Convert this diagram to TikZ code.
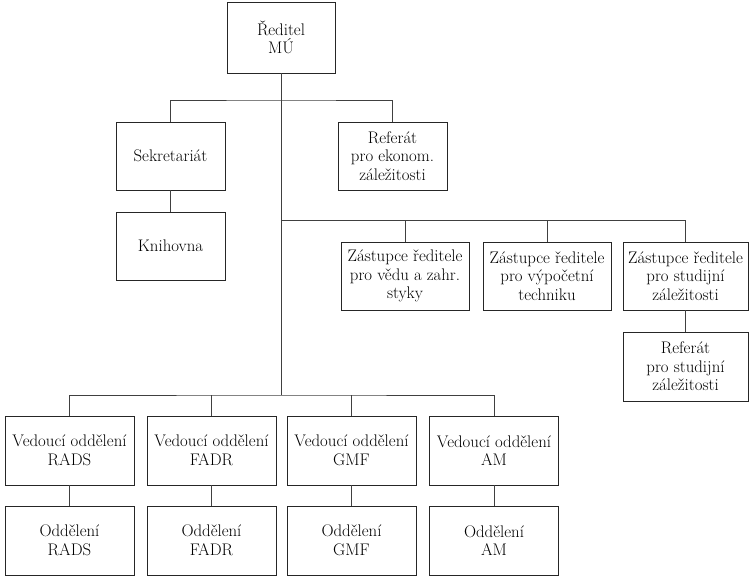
\documentclass[tikz,border=0pt]{standalone}
\begin{document}
\begin{tikzpicture}[x=1pt,y=-1pt,
  box/.style={draw=black!85, line width=0.8pt, minimum height=68pt, minimum width=129pt, inner sep=0pt, align=center, font=\fontsize{16.8}{18.5}\selectfont},
  conn/.style={draw=black!75, line width=0.8pt}]
\useasboundingbox (0,0) rectangle (749,576);
\node[box, minimum width=108pt, minimum height=71pt] (dir) at (281,37.5) {Ředitel\\MÚ};
\node[box, minimum width=109pt] (sek) at (170.5,156) {Sekretariát};
\node[box, minimum width=109pt] (kni) at (170.5,246) {Knihovna};
\node[box, minimum width=109pt] (ref) at (392.5,156) {Referát\\pro ekonom.\\záležitosti};
\node[box, minimum width=128pt] (z1) at (405,276) {Zástupce ředitele\\pro vědu a zahr.\\styky};
\node[box, minimum width=128pt] (z2) at (547,276) {Zástupce ředitele\\pro výpočetní\\techniku};
\node[box, minimum width=125pt] (z3) at (685.5,276) {Zástupce ředitele\\pro studijní\\záležitosti};
\node[box, minimum width=125pt, minimum height=69pt] (rs) at (685.5,366.5) {Referát\\pro studijní\\záležitosti};
\node[box, minimum height=69pt] (v1) at (69.5,450.5) {Vedoucí oddělení\\RADS};
\node[box, minimum height=69pt] (v2) at (211.5,450.5) {Vedoucí oddělení\\FADR};
\node[box, minimum height=69pt] (v3) at (351.5,450.5) {Vedoucí oddělení\\GMF};
\node[box, minimum height=69pt] (v4) at (494,450.5) {Vedoucí oddělení\\AM};
\node[box, minimum height=69pt] (o1) at (69.5,540.5) {Oddělení\\RADS};
\node[box, minimum height=69pt] (o2) at (211.5,540.5) {Oddělení\\FADR};
\node[box, minimum height=69pt] (o3) at (351.5,540.5) {Oddělení\\GMF};
\node[box, minimum height=69pt] (o4) at (494,540.5) {Oddělení\\AM};
\coordinate (j1) at (281,100);
\coordinate (j2) at (281,220);
\coordinate (j3) at (281,395);
\draw[conn] (dir.south) -- (j3);
\draw[conn] (sek.north) |- (j1) -| (ref.north);
\draw[conn] (sek) -- (kni);
\draw[conn] (j2) -| (z3.north);
\draw[conn] (z1.north) -- (z1.north |- j2);
\draw[conn] (z2.north) -- (z2.north |- j2);
\draw[conn] (z3) -- (rs);
\draw[conn] (v1.north) |- (j3) -| (v4.north);
\draw[conn] (v2.north) -- (v2.north |- j3);
\draw[conn] (v3.north) -- (v3.north |- j3);
\draw[conn] (v1) -- (o1);
\draw[conn] (v2) -- (o2);
\draw[conn] (v3) -- (o3);
\draw[conn] (v4) -- (o4);
\end{tikzpicture}
\end{document}
